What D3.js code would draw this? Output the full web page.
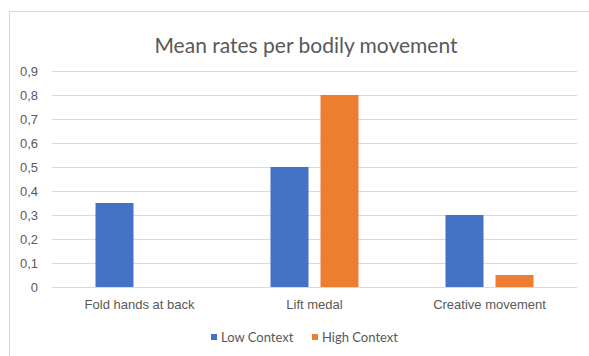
<!DOCTYPE html>
<html>
<head>
<meta charset="utf-8">
<script src="https://cdn.jsdelivr.net/npm/d3@7"></script>
<style>
  html, body { margin: 0; padding: 0; background: #fff; }
  svg { display: block; font-family: Lato, "Open Sans", sans-serif; }
</style>
</head>
<body>
<svg id="chart" width="589" height="356"></svg>
<script>
// Mean rates per bodily movement, by context condition
const categories = ["Fold hands at back", "Lift medal", "Creative movement"];
const seriesNames = ["Low Context", "High Context"];
const lowContext = [0.35, 0.5, 0.3];
const highContext = [0, 0.8, 0.05];
const tickValues = [0, 0.1, 0.2, 0.3, 0.4, 0.5, 0.6, 0.7, 0.8, 0.9];
const tickLabels = ["0", "0,1", "0,2", "0,3", "0,4", "0,5", "0,6", "0,7", "0,8", "0,9"];
const colors = ["#4472C4", "#ED7D31"];

const seriesValues = [lowContext, highContext];
const rows = categories.map((c, i) => ({
  category: c,
  values: seriesNames.map((s, j) => ({ series: s, value: seriesValues[j][i], color: colors[j] }))
}));

const svg = d3.select("#chart");
const textColor = "#595959";

// chart area frame
svg.append("rect")
  .attr("x", 9.5).attr("y", 11.5)
  .attr("width", 600).attr("height", 400)
  .attr("fill", "#fff")
  .attr("stroke", "#d9d9d9").attr("stroke-width", 1);

const margin = { left: 52, right: 577, top: 71, bottom: 287 };

const y = d3.scaleLinear().domain([0, 0.9]).range([margin.bottom, margin.top]);
const x0 = d3.scaleBand().domain(categories).range([margin.left, margin.right]).paddingInner(0).paddingOuter(0);
const x1 = d3.scaleBand().domain(seriesNames).range([0, x0.bandwidth()]).paddingInner(0.24).paddingOuter(0.87);

// gridlines
const yAxis = d3.axisLeft(y)
  .tickValues(tickValues)
  .tickSize(-(margin.right - margin.left))
  .tickPadding(14)
  .tickFormat((d, i) => tickLabels[i]);

const gy = svg.append("g")
  .attr("transform", `translate(${margin.left},0)`)
  .call(yAxis);
gy.select(".domain").remove();
gy.selectAll(".tick line").attr("stroke", "#d9d9d9").attr("stroke-width", 1);
gy.selectAll(".tick text")
  .attr("fill", textColor)
  .attr("font-size", "13px");

// bars
const groups = svg.append("g").selectAll("g")
  .data(rows)
  .join("g")
  .attr("transform", d => `translate(${x0(d.category)},0)`);

groups.selectAll("rect")
  .data(d => d.values)
  .join("rect")
  .attr("x", d => x1(d.series))
  .attr("width", x1.bandwidth())
  .attr("y", d => y(d.value))
  .attr("height", d => y(0) - y(d.value))
  .attr("fill", d => d.color);

// category axis
const xAxis = d3.axisBottom(x0).tickSize(0).tickPadding(13);
const gx = svg.append("g")
  .attr("transform", `translate(0,${margin.bottom})`)
  .call(xAxis);
gx.select(".domain").remove();
gx.selectAll(".tick text")
  .attr("fill", textColor)
  .attr("font-size", "13px");

// title
svg.append("text")
  .attr("x", 306).attr("y", 53)
  .attr("text-anchor", "middle")
  .attr("fill", textColor)
  .attr("font-size", "21px")
  .text("Mean rates per bodily movement");

// legend
const legendItems = [
  { name: seriesNames[0], color: colors[0], x: 211 },
  { name: seriesNames[1], color: colors[1], x: 312 }
];
const legend = svg.append("g").selectAll("g")
  .data(legendItems)
  .join("g")
  .attr("transform", d => `translate(${d.x},334)`);
legend.append("rect")
  .attr("width", 6).attr("height", 6)
  .attr("fill", d => d.color);
legend.append("text")
  .attr("x", 10).attr("y", 7.5)
  .attr("fill", textColor)
  .attr("font-size", "13px")
  .text(d => d.name);
</script>
</body>
</html>
